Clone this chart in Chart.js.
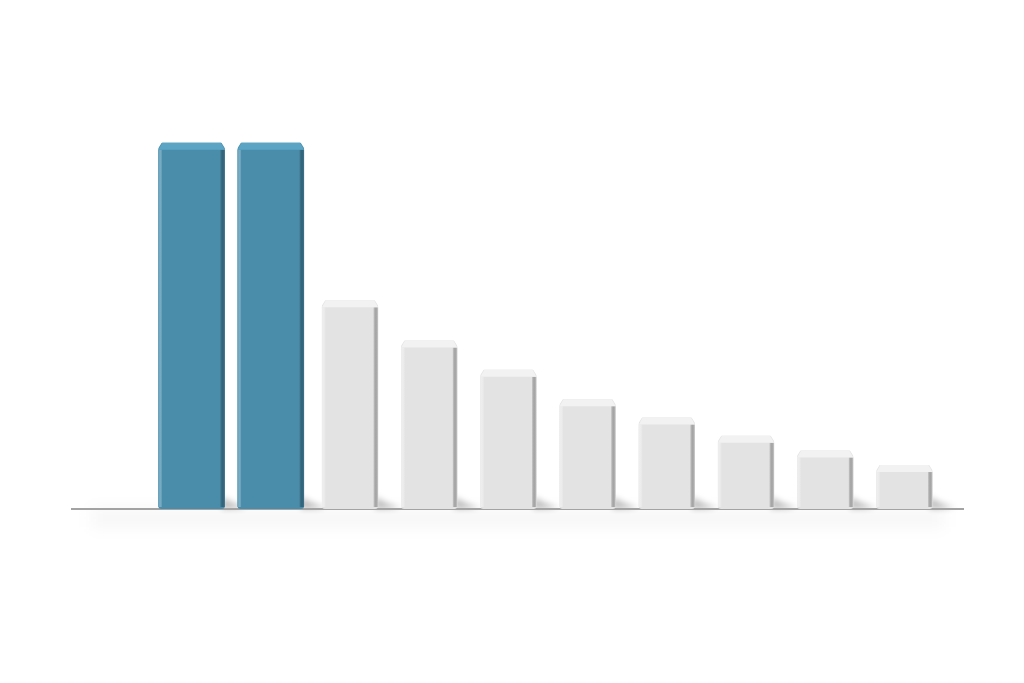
<!DOCTYPE html>
<html>
<head>
<meta charset="utf-8">
<script src="https://cdn.jsdelivr.net/npm/chart.js@4.4.0/dist/chart.umd.min.js"></script>
<style>
  html, body { margin: 0; padding: 0; background: #ffffff; }
  #wrap { width: 1024px; height: 683px; }
</style>
</head>
<body>
<div id="wrap"><canvas id="chart"></canvas></div>
<script>
// data (relative heights, first bar = 100)
const categories = ['1', '2', '3', '4', '5', '6', '7', '8', '9', '10'];
const values = [100, 100, 57, 46, 38, 30, 25, 20, 16, 12];
const highlighted = [true, true, false, false, false, false, false, false, false, false];

const palette = {
    blue: { face: '#4a8dab', top: '#5ba4c4', edge: '#3c7895', light: '#5394b2' },
    white: { face: '#e3e3e3', top: '#f2f2f2', edge: '#d0d0d0', light: '#ececec' }
};

const blueValues = values.map((v, i) => highlighted[i] ? v : null);
const whiteValues = values.map((v, i) => highlighted[i] ? null : v);

function colorsFor(i) {
    return highlighted[i] ? palette.blue : palette.white;
}

function allBars(chart) {
    let list = [];
    chart.data.datasets.forEach((ds, d) => {
        chart.getDatasetMeta(d).data.forEach((bar, i) => {
            if (ds.data[i] != null) list.push({ bar: bar, i: i });
        });
    });
    return list;
}

// floor shadows, baseline and bevels drawn around the library's own bar elements
const bar3d = {
    id: 'bar3d',
    beforeDatasetsDraw(chart) {
        const ctx = chart.ctx;
        const area = chart.chartArea;
        const base = chart.scales.y.getPixelForValue(0);
        const x0 = area.left - 81;
        const x1 = area.right + 20;

        ctx.save();
        // faint reflection below the floor line
        ctx.filter = 'blur(8px)';
        ctx.fillStyle = 'rgba(0,0,0,0.035)';
        ctx.fillRect(x0 + 20, base, x1 - x0 - 40, 18);
        ctx.filter = 'none';

        // shadow cast to the right of each bar
        ctx.filter = 'blur(3px)';
        allBars(chart).forEach(o => {
            const right = o.bar.x + o.bar.width / 2;
            ctx.fillStyle = 'rgba(0,0,0,0.26)';
            ctx.beginPath();
            ctx.moveTo(right - 3, base - 12);
            ctx.lineTo(right + 8, base - 6);
            ctx.lineTo(right + 22, base - 1);
            ctx.lineTo(right - 3, base);
            ctx.closePath();
            ctx.fill();
        });
        ctx.filter = 'none';

        // floor line
        ctx.strokeStyle = '#a3a3a3';
        ctx.lineWidth = 2;
        ctx.beginPath();
        ctx.moveTo(x0, base);
        ctx.lineTo(x1, base);
        ctx.stroke();
        ctx.restore();
    },
    afterDatasetsDraw(chart) {
        const ctx = chart.ctx;
        ctx.save();
        allBars(chart).forEach(o => {
            const bar = o.bar;
            const c = colorsFor(o.i);
            const left = bar.x - bar.width / 2;
            const right = bar.x + bar.width / 2;
            const top = bar.y;
            const base = bar.base;
            const bevel = 7;

            // darker right side
            let eg = ctx.createLinearGradient(right - 5, 0, right, 0);
            eg.addColorStop(0, 'rgba(0,0,0,0)');
            eg.addColorStop(1, c.edge);
            ctx.fillStyle = eg;
            ctx.fillRect(right - 5, top + bevel, 5, base - top - bevel - 2);

            // lighter left side
            let lg = ctx.createLinearGradient(left, 0, left + 4, 0);
            lg.addColorStop(0, c.light);
            lg.addColorStop(1, 'rgba(255,255,255,0)');
            ctx.fillStyle = lg;
            ctx.fillRect(left, top + bevel, 4, base - top - bevel - 2);

            // chamfered top
            ctx.fillStyle = '#ffffff';
            ctx.beginPath();
            ctx.moveTo(left - 1, top - 1);
            ctx.lineTo(left + 4, top - 1);
            ctx.lineTo(left - 1, top + bevel);
            ctx.closePath();
            ctx.fill();
            ctx.beginPath();
            ctx.moveTo(right + 1, top - 1);
            ctx.lineTo(right - 4, top - 1);
            ctx.lineTo(right + 1, top + bevel);
            ctx.closePath();
            ctx.fill();

            ctx.fillStyle = c.top;
            ctx.beginPath();
            ctx.moveTo(left + 4, top);
            ctx.lineTo(right - 4, top);
            ctx.lineTo(right, top + bevel);
            ctx.lineTo(left, top + bevel);
            ctx.closePath();
            ctx.fill();
        });
        ctx.restore();
    }
};

new Chart(document.getElementById('chart'), {
    type: 'bar',
    data: {
        labels: categories,
        datasets: [{
            data: blueValues,
            backgroundColor: palette.blue.face,
            borderWidth: 0,
            borderRadius: 3,
            borderSkipped: false,
            grouped: false,
            categoryPercentage: 1,
            barPercentage: 0.84
        }, {
            data: whiteValues,
            backgroundColor: palette.white.face,
            borderWidth: 0,
            borderRadius: 3,
            borderSkipped: false,
            grouped: false,
            categoryPercentage: 1,
            barPercentage: 0.71
        }]
    },
    options: {
        responsive: true,
        maintainAspectRatio: false,
        animation: false,
        events: [],
        layout: { padding: { left: 152, right: 80, top: 33, bottom: 174 } },
        plugins: { legend: { display: false }, tooltip: { enabled: false } },
        scales: {
            x: { display: false },
            y: { display: false, min: 0, max: 130 }
        }
    },
    plugins: [bar3d]
});
</script>
</body>
</html>
